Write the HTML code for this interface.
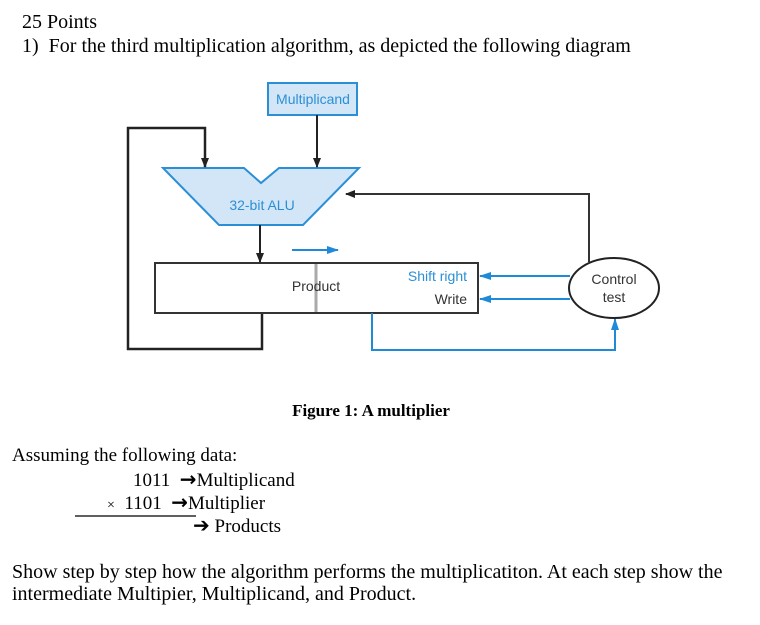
<!DOCTYPE html>
<html><head><meta charset="utf-8"><style>
body{margin:0;width:760px;height:625px;background:#fff;position:relative;overflow:hidden;font-family:"Liberation Serif",serif;color:#000}
.t{position:absolute;white-space:nowrap;font-size:20px;line-height:22px}
svg{position:absolute;left:0;top:0}
.a{font-family:"DejaVu Sans",sans-serif;font-size:20px;font-weight:bold}
</style></head><body>
<div class="t" style="left:22px;top:11px">25 Points</div>
<div class="t" style="left:22px;top:35px">1)&nbsp; For the third multiplication algorithm, as depicted the following diagram</div>
<svg width="760" height="625" viewBox="0 0 760 625">
<defs>
<marker id="ak" markerWidth="10" markerHeight="10" refX="9" refY="5" orient="auto" markerUnits="userSpaceOnUse"><path d="M0,1 L10,5 L0,9 z" fill="#222"/></marker>
<marker id="ab" markerWidth="12" markerHeight="10" refX="11" refY="5" orient="auto" markerUnits="userSpaceOnUse"><path d="M0,1 L12,5 L0,9 z" fill="#1f8ad8"/></marker>
</defs>
<g font-family="Liberation Sans, sans-serif">
<rect x="268" y="83" width="89" height="32" fill="#d3e6f7" stroke="#2b8fd6" stroke-width="2"/>
<text x="313" y="104" font-size="14" fill="#2b8fd6" text-anchor="middle">Multiplicand</text>
<polygon points="163,168 244,168 261,183 279,168 359,168 303,225 219,225" fill="#d3e6f7" stroke="#2b8fd6" stroke-width="2"/>
<text x="262" y="210" font-size="14" fill="#2b8fd6" text-anchor="middle">32-bit ALU</text>
<path d="M317,115 V167" stroke="#222" stroke-width="2" fill="none" marker-end="url(#ak)"/>
<path d="M262,313 V349 H128 V128 H205 V167" stroke="#222" stroke-width="2.5" fill="none" marker-end="url(#ak)"/>
<path d="M260,225 V262" stroke="#222" stroke-width="2" fill="none" marker-end="url(#ak)"/>
<path d="M589,262 V194 H346" stroke="#333" stroke-width="2" fill="none" marker-end="url(#ak)"/>
<path d="M292,250 H338" stroke="#1f8ad8" stroke-width="2" fill="none" marker-end="url(#ab)"/>
<rect x="155" y="263" width="323" height="50" fill="#fff" stroke="#333" stroke-width="2"/>
<line x1="316" y1="264" x2="316" y2="312" stroke="#aaa" stroke-width="3"/>
<text x="316" y="291" font-size="14" fill="#333" text-anchor="middle">Product</text>
<text x="467" y="281" font-size="14" fill="#2b8fd6" text-anchor="end">Shift right</text>
<text x="467" y="304" font-size="14" fill="#333" text-anchor="end">Write</text>
<path d="M570,276 H480" stroke="#1f8ad8" stroke-width="2" fill="none" marker-end="url(#ab)"/>
<path d="M570,299 H480" stroke="#1f8ad8" stroke-width="2" fill="none" marker-end="url(#ab)"/>
<path d="M372,313 V350 H615 V319" stroke="#1f8ad8" stroke-width="2" fill="none" marker-end="url(#ab)"/>
<ellipse cx="614" cy="288" rx="45" ry="30" fill="#fff" stroke="#222" stroke-width="2"/>
<text x="614" y="284" font-size="14" fill="#333" text-anchor="middle">Control</text>
<text x="614" y="302" font-size="14" fill="#333" text-anchor="middle">test</text>
</g>
<text x="371" y="416" font-family="Liberation Serif, serif" font-weight="bold" font-size="17" text-anchor="middle">Figure 1: A multiplier</text>
<line x1="75" y1="516" x2="196" y2="516" stroke="#000" stroke-width="1.2"/>
</svg>
<div class="t" style="left:12px;top:445px;font-size:19px">Assuming the following data:</div>
<div class="t" style="left:133px;top:468px;font-size:19px">1011 &nbsp;<span class="a">→</span>Multiplicand</div>
<div class="t" style="left:107px;top:491px;font-size:19px"><span style="font-size:14px">×</span>&nbsp; 1101 &nbsp;<span class="a">→</span>Multiplier</div>
<div class="t" style="left:193px;top:514px;font-size:19px"><span class="a">➔</span> Products</div>
<div class="t" style="left:12px;top:561px">Show step by step how the algorithm performs the multiplicatiton. At each step show the</div>
<div class="t" style="left:12px;top:583px">intermediate Multipier, Multiplicand, and Product.</div>
</body></html>
